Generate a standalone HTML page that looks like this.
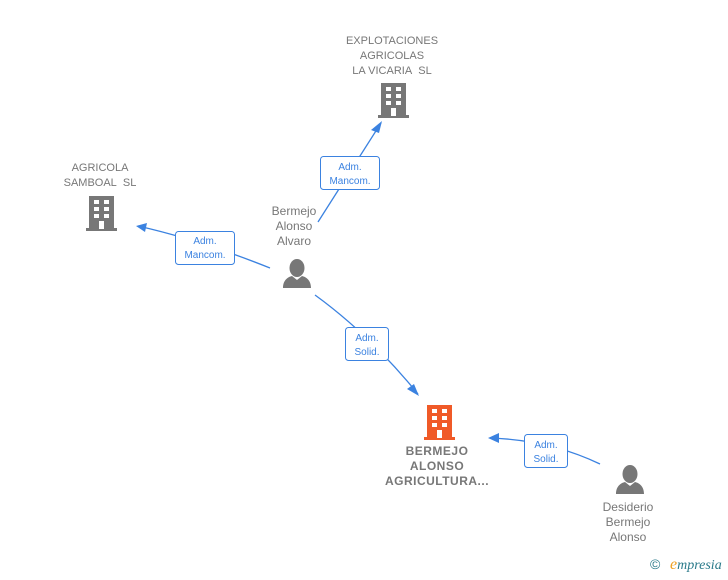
<!DOCTYPE html>
<html><head><style>
body{margin:0;background:#fff;width:728px;height:575px;overflow:hidden}
svg{font-family:"Liberation Sans",Arial,sans-serif}
</style></head><body>
<svg width="728" height="575" viewBox="0 0 728 575">
<defs>
<g id="bld">
<rect x="3" y="0" width="25" height="33" />
<rect x="0" y="32" width="31" height="3"/>
</g>
<g id="win" fill="#fff">
<rect x="8" y="4" width="5" height="4"/><rect x="18" y="4" width="5" height="4"/>
<rect x="8" y="11" width="5" height="4"/><rect x="18" y="11" width="5" height="4"/>
<rect x="8" y="18" width="5" height="4"/><rect x="18" y="18" width="5" height="4"/>
<rect x="13" y="25" width="5" height="8"/>
</g>
<g id="person" fill="#777">
<ellipse cx="14" cy="9" rx="7.5" ry="9"/>
<path d="M0 29 C0 21 5 18 9 17 L14 21 L19 17 C23 18 28 21 28 29 Z"/>
</g>
</defs>
<g stroke="#3b82e0" stroke-width="1.3" fill="none">
<path d="M318 222 L381 123"/>
<path d="M270 268 Q200 240 138 226"/>
<path d="M315 295 Q370 335 418 394"/>
<path d="M600 464 Q550 440 490 438"/>
</g>
<g fill="#3b82e0">
<path d="M382 121 L371 130 L379 133 Z"/>
<path d="M136 226 L147 223 L145 232 Z"/>
<path d="M419 396 L407 389 L414 384 Z"/>
<path d="M488 438 L499 433 L499 443 Z"/>
</g>
<g fill="#fff" stroke="#3b82e0" stroke-width="1">
<rect x="320.5" y="156.5" width="59" height="33" rx="3"/>
<rect x="175.5" y="231.5" width="59" height="33" rx="3"/>
<rect x="345.5" y="327.5" width="43" height="33" rx="3"/>
<rect x="524.5" y="434.5" width="43" height="33" rx="3"/>
</g>
<g fill="#3b82e0" font-size="10" text-anchor="middle">
<text x="350" y="170">Adm.</text><text x="350" y="184">Mancom.</text>
<text x="205" y="244">Adm.</text><text x="205" y="258">Mancom.</text>
<text x="367" y="341">Adm.</text><text x="367" y="355">Solid.</text>
<text x="546" y="448">Adm.</text><text x="546" y="462">Solid.</text>
</g>
<g fill="#777"><use href="#bld" x="378" y="83"/></g><use href="#win" x="378" y="83"/>
<g fill="#777"><use href="#bld" x="86" y="196"/></g><use href="#win" x="86" y="196"/>
<g fill="#f05a28"><use href="#bld" x="424" y="405"/></g><use href="#win" x="424" y="405"/>
<use href="#person" x="283" y="259"/>
<use href="#person" x="616" y="465"/>
<g fill="#777" font-size="11" text-anchor="middle">
<text x="392" y="44">EXPLOTACIONES</text><text x="392" y="59">AGRICOLAS</text><text x="392" y="74">LA VICARIA&#160; SL</text>
<text x="100" y="171">AGRICOLA</text><text x="100" y="186">SAMBOAL&#160; SL</text>
</g>
<g fill="#777" font-size="12" text-anchor="middle">
<text x="294" y="215">Bermejo</text><text x="294" y="230">Alonso</text><text x="294" y="245">Alvaro</text>
<text x="628" y="511">Desiderio</text><text x="628" y="526">Bermejo</text><text x="628" y="541">Alonso</text>
</g>
<g fill="#777" font-size="12" font-weight="bold" text-anchor="middle" letter-spacing="0.5">
<text x="437" y="455">BERMEJO</text><text x="437" y="470">ALONSO</text><text x="437" y="485">AGRICULTURA...</text>
</g>
<text x="650" y="569" font-size="14" fill="#2a7a8a">©</text>
<text x="670" y="569" font-size="14" font-style="italic" fill="#2a7a8a" font-family="Liberation Serif,serif"><tspan fill="#f0a020" font-size="16">e</tspan>mpresia</text>
</svg>
</body></html>
